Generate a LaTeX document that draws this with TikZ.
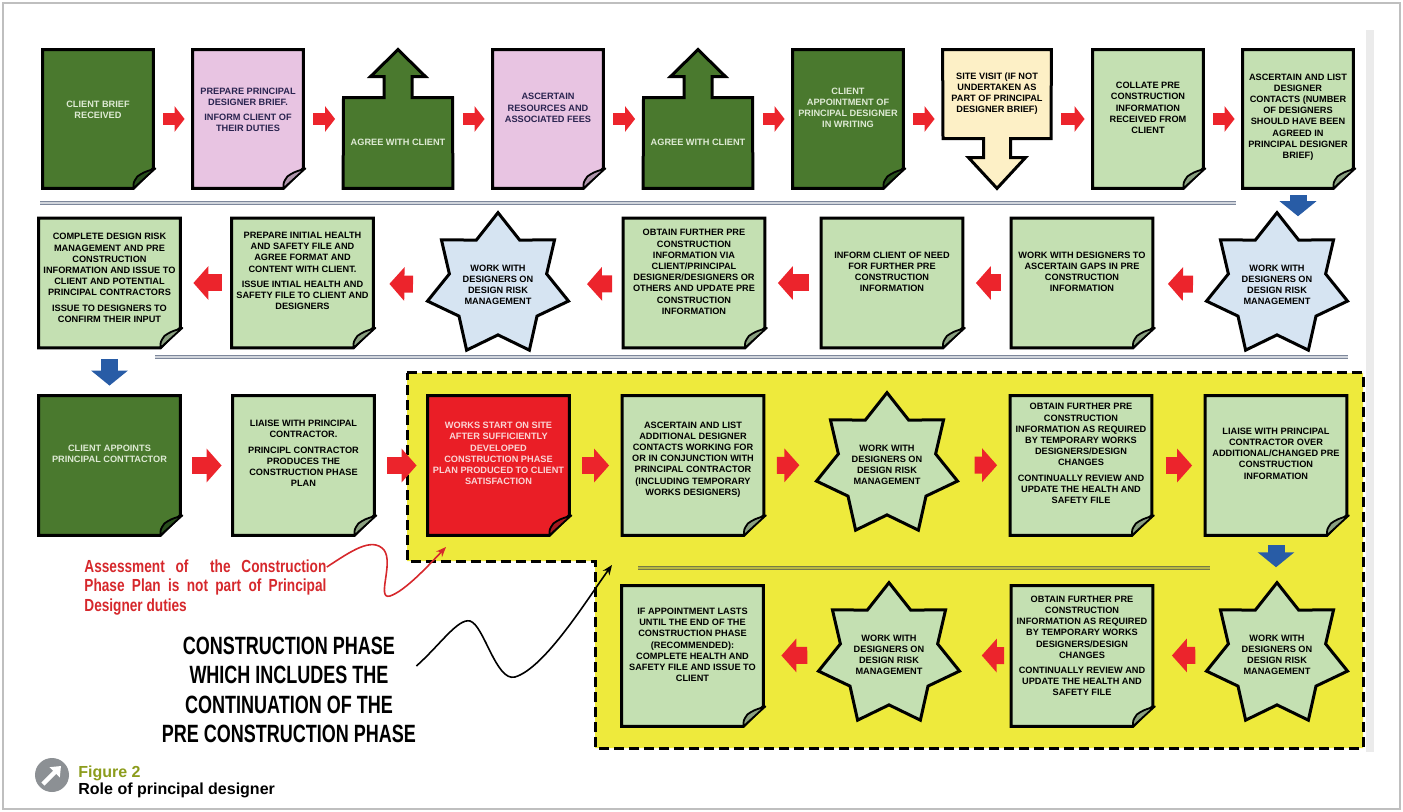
\documentclass[tikz,border=0pt]{standalone}
\usepackage{fontspec}
\setmainfont{Liberation Sans}
\newfontfamily\narrowfont[FakeStretch=0.78]{Liberation Sans}
\newfontfamily\phasefont[FakeStretch=0.72]{Liberation Sans}
\usetikzlibrary{arrows.meta}
\usetikzlibrary{shapes.geometric}

\definecolor{dkgreen}{RGB}{74,121,46}
\definecolor{dkfold}{RGB}{40,78,28}
\definecolor{ltgreen}{RGB}{196,224,178}
\definecolor{ltfold}{RGB}{138,160,128}
\definecolor{pinkbox}{RGB}{232,196,226}
\definecolor{pinkfold}{RGB}{176,150,172}
\definecolor{sitebox}{RGB}{253,240,198}
\definecolor{ltblue}{RGB}{214,228,242}
\definecolor{redbox}{RGB}{234,30,38}
\definecolor{redfold}{RGB}{165,24,30}
\definecolor{zone}{RGB}{238,234,60}
\definecolor{arrowred}{RGB}{236,36,44}
\definecolor{arrowblue}{RGB}{40,92,166}
\definecolor{sepgray}{RGB}{125,135,155}
\definecolor{sepolive}{RGB}{118,122,70}
\definecolor{notered}{RGB}{214,40,44}
\definecolor{olive}{RGB}{140,156,28}
\definecolor{capgray}{RGB}{140,144,148}
\definecolor{navytext}{RGB}{42,36,80}
\definecolor{paletext}{RGB}{222,234,212}
\definecolor{pinktext}{RGB}{250,214,214}

\newcommand{\boxfont}{\fontsize{4.6}{5.6}\selectfont\bfseries}

% page with folded corner, drawn under the node text
\newcommand{\pagefold}[3]{%
  \filldraw[pageline, fill=#2] (#1.north west) -- (#1.north east) -- ([yshift=10pt]#1.south east)
    -- ([xshift=-10pt]#1.south east) -- (#1.south west) -- cycle;
  \filldraw[foldline, fill=#3] ([xshift=-10pt]#1.south east)
    .. controls ([xshift=-10pt,yshift=3pt]#1.south east) .. ([xshift=-8pt,yshift=6pt]#1.south east)
    .. controls ([xshift=-5pt,yshift=8pt]#1.south east) .. ([xshift=1pt,yshift=10pt]#1.south east) -- cycle;
}
% box with an arrow on top
\newcommand{\uparrowpage}[2]{%
  \filldraw[pageline, fill=#2] ([shift={(-27.25pt,-24pt)}]#1.north) -- ([shift={(-7pt,-24pt)}]#1.north)
    -- ([shift={(-7pt,-13.5pt)}]#1.north) -- ([shift={(-13.75pt,-13.5pt)}]#1.north) -- (#1.north)
    -- ([shift={(13.75pt,-13.5pt)}]#1.north) -- ([shift={(7pt,-13.5pt)}]#1.north)
    -- ([shift={(7pt,-24pt)}]#1.north) -- ([shift={(27.25pt,-24pt)}]#1.north)
    -- (#1.south east) -- (#1.south west) -- cycle;
}
% box with an arrow below
\newcommand{\downarrowpage}[2]{%
  \filldraw[pageline, fill=#2] (#1.north west) -- (#1.north east) -- ([shift={(27pt,-44.5pt)}]#1.north)
    -- ([shift={(6.75pt,-44.5pt)}]#1.north) -- ([shift={(6.75pt,-54pt)}]#1.north)
    -- ([shift={(14.25pt,-54pt)}]#1.north) -- (#1.south) -- ([shift={(-14.25pt,-54pt)}]#1.north)
    -- ([shift={(-6.75pt,-54pt)}]#1.north) -- ([shift={(-6.75pt,-44.5pt)}]#1.north)
    -- ([shift={(-27pt,-44.5pt)}]#1.north) -- cycle;
}

\tikzset{
  pageline/.style={draw=black, line width=1.5pt, line join=miter},
  foldline/.style={draw=black, line width=0.9pt, line join=round},
  docpage/.style 2 args={rectangle, inner sep=0pt, minimum width=70.5pt, minimum height=69.5pt,
    append after command={\pgfextra{\pagefold{\tikzlastnode}{#1}{#2}}}},
  uppage/.style={rectangle, inner sep=0pt, minimum width=54.5pt, minimum height=69pt,
    append after command={\pgfextra{\uparrowpage{\tikzlastnode}{#1}}}},
  downpage/.style={rectangle, inner sep=0pt, minimum width=54pt, minimum height=69pt,
    append after command={\pgfextra{\downarrowpage{\tikzlastnode}{#1}}}},
  firstrow/.style={minimum width=55pt, minimum height=69pt},
  secondrow/.style={minimum height=64.5pt},
  txt/.style={align=center, font=\boxfont, inner sep=0pt, yshift=#1},
  txt/.default=5pt,
  riskstar/.style={star, star points=7, star point ratio=1.45, minimum size=70pt, inner sep=0pt,
    draw=black, line width=1.5pt, line join=miter, align=center, font=\boxfont},
  flowarrow/.style={draw=arrowred, line width=6pt, -{Triangle[length=5pt, width=12.5pt]},
    shorten <=5pt, shorten >=4pt},
  bigflow/.style={draw=arrowred, line width=8.5pt, -{Triangle[length=7.5pt, width=16.5pt]}},
  downflow/.style={draw=arrowblue, line width=8.5pt, -{Triangle[length=7.5pt, width=18pt]}},
  zoneline/.style={draw=black, line width=1.5pt, dash pattern=on 5pt off 2.5pt},
  sepline/.style={draw=sepgray, line width=0.6pt, double=sepgray!35, double distance=0.8pt},
}

\begin{document}
\begin{tikzpicture}[x=0.5pt, y=-0.5pt]
\useasboundingbox (0,0) rectangle (1403,812);
\draw[black!25, line width=0.8pt] (3,3) rectangle (1400,809);
\fill[black!8] (1366,30) rectangle (1374,752);

% construction phase
\filldraw[fill=zone, zoneline] (407,373) -- (1363,373) -- (1363,748) -- (595,748) -- (595,561) -- (407,561) -- cycle;

\draw[sepline] (40,203) -- (1236,203);
\draw[sepline] (155,357) -- (1348,357);
\draw[sepline, draw=sepolive, double=zone!55!sepolive] (638,568) -- (1210,568);

% row 1
\node[docpage={dkgreen}{dkfold}, firstrow, label={[txt=4.5pt, text=paletext]center:{CLIENT BRIEF\\RECEIVED}}] (1) at (98,119) {};
\node[docpage={pinkbox}{pinkfold}, firstrow, label={[txt=4.5pt, text=navytext]center:{PREPARE PRINCIPAL\\DESIGNER BRIEF.\\[2pt]INFORM CLIENT OF\\THEIR DUTIES}}] (2) at (248,119) {};
\node[uppage=dkgreen, label={[txt=-11.5pt, text=paletext]center:{AGREE WITH CLIENT}}] (3) at (398,119) {};
\node[docpage={pinkbox}{pinkfold}, firstrow, label={[txt=5.5pt, text=navytext]center:{ASCERTAIN\\RESOURCES AND\\ASSOCIATED FEES}}] (4) at (548,119) {};
\node[uppage=dkgreen, label={[txt=-11.5pt, text=paletext]center:{AGREE WITH CLIENT}}] (5) at (698,119) {};
\node[docpage={dkgreen}{dkfold}, firstrow, label={[txt=5.5pt, text=paletext]center:{CLIENT\\APPOINTMENT OF\\PRINCIPAL DESIGNER\\IN WRITING}}] (6) at (848,119) {};
\node[downpage=sitebox, label={[txt=12.75pt]center:{SITE VISIT (IF NOT\\UNDERTAKEN AS\\PART OF PRINCIPAL\\DESIGNER BRIEF)}}] (7) at (997,119) {};
\node[docpage={ltgreen}{ltfold}, firstrow, label={[txt=5.5pt]center:{COLLATE PRE\\CONSTRUCTION\\INFORMATION\\RECEIVED FROM\\CLIENT}}] (8) at (1148,119) {};
\node[docpage={ltgreen}{ltfold}, firstrow, label={[txt=1pt]center:{ASCERTAIN AND LIST\\DESIGNER\\CONTACTS (NUMBER\\OF DESIGNERS\\SHOULD HAVE BEEN\\AGREED IN\\PRINCIPAL DESIGNER\\BRIEF)}}] (9) at (1298,119) {};

\draw[flowarrow] (1) -- (2);
\draw[flowarrow] (2) -- (3);
\draw[flowarrow] (3) -- (4);
\draw[flowarrow] (4) -- (5);
\draw[flowarrow] (5) -- (6);
\draw[flowarrow] (6) -- (7);
\draw[flowarrow] (7) -- (8);
\draw[flowarrow] (8) -- (9);

% row 2, right to left
\node[riskstar, fill=ltblue, minimum size=68pt] (10) at (1277,285) {WORK WITH\\DESIGNERS ON\\DESIGN RISK\\MANAGEMENT};
\node[docpage={ltgreen}{ltfold}, secondrow, label={[txt=5.5pt]center:{WORK WITH DESIGNERS TO\\ASCERTAIN GAPS IN PRE\\CONSTRUCTION\\INFORMATION}}] (11) at (1082,283) {};
\node[docpage={ltgreen}{ltfold}, secondrow, label={[txt=5.5pt]center:{INFORM CLIENT OF NEED\\FOR FURTHER PRE\\CONSTRUCTION\\INFORMATION}}] (12) at (892,283) {};
\node[docpage={ltgreen}{ltfold}, secondrow, label={[txt=5.5pt]center:{OBTAIN FURTHER PRE\\CONSTRUCTION\\INFORMATION VIA\\CLIENT/PRINCIPAL\\DESIGNER/DESIGNERS OR\\OTHERS AND UPDATE PRE\\CONSTRUCTION\\INFORMATION}}] (13) at (694,283) {};
\node[riskstar, fill=ltblue, minimum size=68pt] (14) at (498,285) {WORK WITH\\DESIGNERS ON\\DESIGN RISK\\MANAGEMENT};
\node[docpage={ltgreen}{ltfold}, secondrow, label={[txt=6pt]center:{PREPARE INITIAL HEALTH\\AND SAFETY FILE AND\\AGREE FORMAT AND\\CONTENT WITH CLIENT.\\[2pt]ISSUE INTIAL HEALTH AND\\SAFETY FILE TO CLIENT AND\\DESIGNERS}}] (15) at (302.5,283) {};
\node[docpage={ltgreen}{ltfold}, secondrow, label={[txt=2.5pt]center:{COMPLETE DESIGN RISK\\MANAGEMENT AND PRE\\CONSTRUCTION\\INFORMATION AND ISSUE TO\\CLIENT AND POTENTIAL\\PRINCIPAL CONTRACTORS\\[2pt]ISSUE TO DESIGNERS TO\\CONFIRM THEIR INPUT}}] (16) at (109.5,283) {};

\draw[downflow, shorten <=3.5pt, shorten >=-3pt] (9.south) -- (9.south |- 10.north);
\draw[bigflow, shorten <=12.5pt, shorten >=7.5pt] (10) -- (11);
\draw[bigflow, shorten <=5pt, shorten >=6.5pt] (11) -- (12);
\draw[bigflow, shorten <=6pt, shorten >=6.5pt] (12) -- (13);
\draw[bigflow, shorten <=5.5pt, shorten >=15pt] (13) -- (14);
\draw[bigflow, shorten <=13pt, shorten >=8pt] (14) -- (15);
\draw[bigflow, shorten <=5pt, shorten >=6.5pt] (15) -- (16);

% row 3
\node[docpage={dkgreen}{dkfold}, label={[txt=6pt, text=paletext]center:{CLIENT APPOINTS\\PRINCIPAL CONTTACTOR}}] (17) at (109.5,465.5) {};
\node[docpage={ltgreen}{ltfold}, label={[txt=6pt]center:{LIAISE WITH PRINCIPAL\\CONTRACTOR.\\[2pt]PRINCIPL CONTRACTOR\\PRODUCES THE\\CONSTRUCTION PHASE\\PLAN}}] (18) at (303.5,465.5) {};
\node[docpage={redbox}{redfold}, label={[txt=6pt, text=pinktext]center:{WORKS START ON SITE\\AFTER SUFFICIENTLY\\DEVELOPED\\CONSTRUCTION PHASE\\PLAN PRODUCED TO CLIENT\\SATISFACTION}}] (19) at (498.5,465.5) {};
\node[docpage={ltgreen}{ltfold}, label={[txt=3pt]center:{ASCERTAIN AND LIST\\ADDITIONAL DESIGNER\\CONTACTS WORKING FOR\\OR IN CONJUNCTION WITH\\PRINCIPAL CONTRACTOR\\(INCLUDING TEMPORARY\\WORKS DESIGNERS)}}] (20) at (693,465.5) {};
\node[riskstar, fill=ltgreen] (21) at (887,465) {WORK WITH\\DESIGNERS ON\\DESIGN RISK\\MANAGEMENT};
\node[docpage={ltgreen}{ltfold}, label={[txt=6pt]center:{OBTAIN FURTHER PRE\\CONSTRUCTION\\INFORMATION AS REQUIRED\\BY TEMPORARY WORKS\\DESIGNERS/DESIGN\\CHANGES\\[2pt]CONTINUALLY REVIEW AND\\UPDATE THE HEALTH AND\\SAFETY FILE}}] (22) at (1081,465.5) {};
\node[docpage={ltgreen}{ltfold}, label={[txt=6pt]center:{LIAISE WITH PRINCIPAL\\CONTRACTOR OVER\\ADDITIONAL/CHANGED PRE\\CONSTRUCTION\\INFORMATION}}] (23) at (1276,465.5) {};

\draw[downflow, shorten <=5.5pt, shorten >=5pt] (16.south) -- (16.south |- 17.north);
\draw[bigflow, shorten <=6pt, shorten >=5.5pt] (17) -- (18);
\draw[bigflow, shorten <=6.5pt, shorten >=5.5pt] (18) -- (19);
\draw[bigflow, shorten <=6.5pt, shorten >=6.5pt] (19) -- (20);
\draw[bigflow, shorten <=6.5pt, shorten >=14pt] (20) -- (21);
\draw[bigflow, shorten <=14pt, shorten >=6.5pt] (21) -- (22);
\draw[bigflow, shorten <=7pt, shorten >=6.5pt] (22) -- (23);

% row 4, right to left
\node[riskstar, fill=ltgreen] (24) at (1277,655) {WORK WITH\\DESIGNERS ON\\DESIGN RISK\\MANAGEMENT};
\node[docpage={ltgreen}{ltfold}, minimum height=70pt, label={[txt=5pt]center:{OBTAIN FURTHER PRE\\CONSTRUCTION\\INFORMATION AS REQUIRED\\BY TEMPORARY WORKS\\DESIGNERS/DESIGN\\CHANGES\\[2pt]CONTINUALLY REVIEW AND\\UPDATE THE HEALTH AND\\SAFETY FILE}}] (25) at (1082,656) {};
\node[riskstar, fill=ltgreen] (26) at (889,655) {WORK WITH\\DESIGNERS ON\\DESIGN RISK\\MANAGEMENT};
\node[docpage={ltgreen}{ltfold}, minimum height=70pt, label={[txt=5.5pt]center:{IF APPOINTMENT LASTS\\UNTIL THE END OF THE\\CONSTRUCTION PHASE\\(RECOMMENDED):\\COMPLETE HEALTH AND\\SAFETY FILE AND ISSUE TO\\CLIENT}}] (27) at (692.5,656) {};

\draw[downflow, shorten <=5pt, shorten >=6.5pt] (23.south) -- (23.south |- 24.north);
\draw[bigflow, shorten <=11pt, shorten >=9.5pt] (24) -- (25);
\draw[bigflow, shorten <=3.5pt, shorten >=16.5pt] (25) -- (26);
\draw[bigflow, shorten <=11pt, shorten >=9pt] (26) -- (27);

% notes
\node[font=\narrowfont\bfseries\fontsize{8.75}{9.75}\selectfont, text=notered, align=left, anchor=north west, inner sep=0pt] (note) at (84,559)
  {\makebox[121pt][s]{Assessment of\ \ the Construction}\\\makebox[121pt][s]{Phase Plan is not part of Principal}\\Designer duties};
\coordinate (redtip) at (446,547);
\draw[notered, line width=0.8pt, -{Stealth[length=5pt, width=4pt]}] ([yshift=-4pt]note.north east)
  .. controls (350,552) and (372,536) .. (384,550) .. controls (394,563) and (376,600) .. (390,596)
  .. controls (405,591) and (428,566) .. (redtip);

\node[font=\phasefont\bfseries\fontsize{12.5}{14.75}\selectfont, align=center, inner sep=0pt] (phase) at (289,690)
  {CONSTRUCTION PHASE\\WHICH INCLUDES THE\\CONTINUATION OF THE\\PRE CONSTRUCTION PHASE};
\coordinate (phasetip) at (612,565);
\draw[black, line width=0.8pt, -{Stealth[length=5pt, width=4pt]}] ([yshift=12pt]phase.east)
  .. controls (440,645) and (458,618) .. (470,621) .. controls (484,625) and (496,682) .. (515,677)
  .. controls (545,668) and (588,598) .. (phasetip);

% caption
\node[circle, fill=capgray, minimum size=17pt, inner sep=0pt] (icon) at (52,775) {};
\draw[white, line width=2.2pt, -{Triangle[length=4.5pt, width=7pt]}] ([shift={(-4.5pt,-4.5pt)}]icon.center) -- ([shift={(4.5pt,4.5pt)}]icon.center);
\node[font=\fontsize{8}{8.5}\selectfont\bfseries, text=olive, anchor=base west, inner sep=0pt] (figno) at (78,777) {Figure 2};
\node[font=\fontsize{8}{8.5}\selectfont\bfseries, anchor=base west, inner sep=0pt] (figtitle) at (78,794) {Role of principal designer};
\end{tikzpicture}
\end{document}
